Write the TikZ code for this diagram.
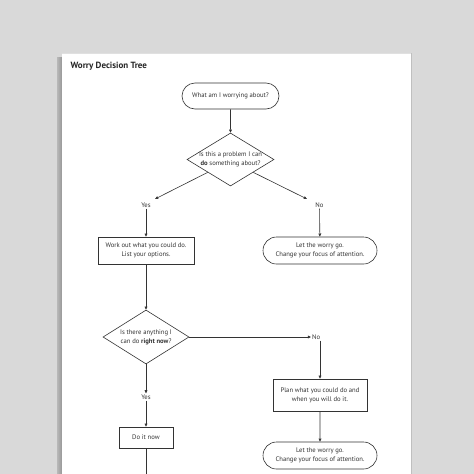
\documentclass[tikz,border=0pt]{standalone}
\usepackage{fontspec}
\setmainfont{PT Sans}
\usetikzlibrary{shapes.geometric,shapes.misc,arrows.meta,calc}
\definecolor{bg}{HTML}{D9D9D9}
\definecolor{ink}{HTML}{333333}
\tikzset{
  x=1pt, y=-1pt,
  every node/.style={font=\fontsize{6.65}{8.8}\selectfont, text=ink, align=center, inner sep=0pt},
  pill/.style={draw=ink, line width=0.6pt, rounded rectangle, minimum height=#1},
  pill/.default=26pt,
  box/.style={draw=ink, line width=0.6pt, rectangle},
  choice/.style={draw=ink, line width=0.6pt, diamond, aspect=1.6},
  lbl/.style={inner sep=1pt},
  arr/.style={draw=ink, line width=0.6pt, -{Triangle[length=3.2pt,width=2.8pt]}},
  ln/.style={draw=ink, line width=0.6pt},
}
\begin{document}
\begin{tikzpicture}
\useasboundingbox (0,0) rectangle (474,474);
% background and page
\fill[bg] (0,0) rectangle (474,474);
\shade[left color=bg!85!black, right color=black!42] (57,57) rectangle (62.5,474);
\fill[white] (62,53) rectangle (411,474);
\draw[black!25, line width=0.8pt] (411.4,53) -- (411.4,474);
\draw[black!12, line width=0.6pt] (62,53) -- (411,53);
% title
\node[anchor=west, font=\fontsize{9}{10}\selectfont\bfseries, text=black!85] (title) at (70.5,66) {Worry Decision Tree};
% nodes
\node[pill, minimum width=97pt] (start) at (230.5,96) {What am I worrying about?};
\node[choice, minimum width=87pt, minimum height=53pt] (d1) at (230.5,159.5) {};
\node at (230.5,159.5) {Is this a problem I can\\\textbf{do} something about?};
\node[lbl] (yes1) at (146,205) {Yes};
\node[lbl] (no1) at (319.5,205) {No};
\node[box, minimum width=96pt, minimum height=27pt] (work) at (146,250.5) {Work out what you could do.\\List your options.};
\node[pill=27pt, minimum width=114pt] (let1) at (320,250.5) {Let the worry go.\\Change your focus of attention.};
\node[choice, minimum width=86pt, minimum height=54pt] (d2) at (146,337) {};
\node at (146,337) {Is there anything I\\can do \textbf{right now}?};
\node[lbl, anchor=west] (no2) at (311,337) {No};
\node[lbl] (yes2) at (146,397) {Yes};
\node[box, minimum width=94pt, minimum height=32pt] (plan) at (320,395) {Plan what you could do and\\when you will do it.};
\node[pill=27pt, minimum width=114pt] (let2) at (320,455.5) {Let the worry go.\\Change your focus of attention.};
\node[box, minimum width=54pt, minimum height=21pt] (doit) at (146,437.5) {Do it now};
% connector points
\coordinate (d1l) at ($(d1.west)!0.48!(d1.south)$);
\coordinate (d1r) at ($(d1.east)!0.48!(d1.south)$);
\coordinate (yes1t) at (155,199);
\coordinate (no1t) at (307,199);
\coordinate (bottom) at (146,474);
% connectors
\draw[arr] (start) -- (d1.north);
\draw[arr] (d1l) -- (yes1t);
\draw[arr] (d1r) -- (no1t);
\draw[arr] (yes1) -- (work);
\draw[arr] (no1) -- (let1);
\draw[arr] (work) -- (d2.north);
\draw[arr] (d2.east) -- (no2.west);
\draw[arr] (no2.south -| let1.center) -- (plan);
\draw[arr] (d2.south) -- (yes2);
\draw[arr] (yes2) -- (doit);
\draw[arr] (plan) -- (let2);
\draw[ln] (doit) -- (bottom);
\end{tikzpicture}
\end{document}
